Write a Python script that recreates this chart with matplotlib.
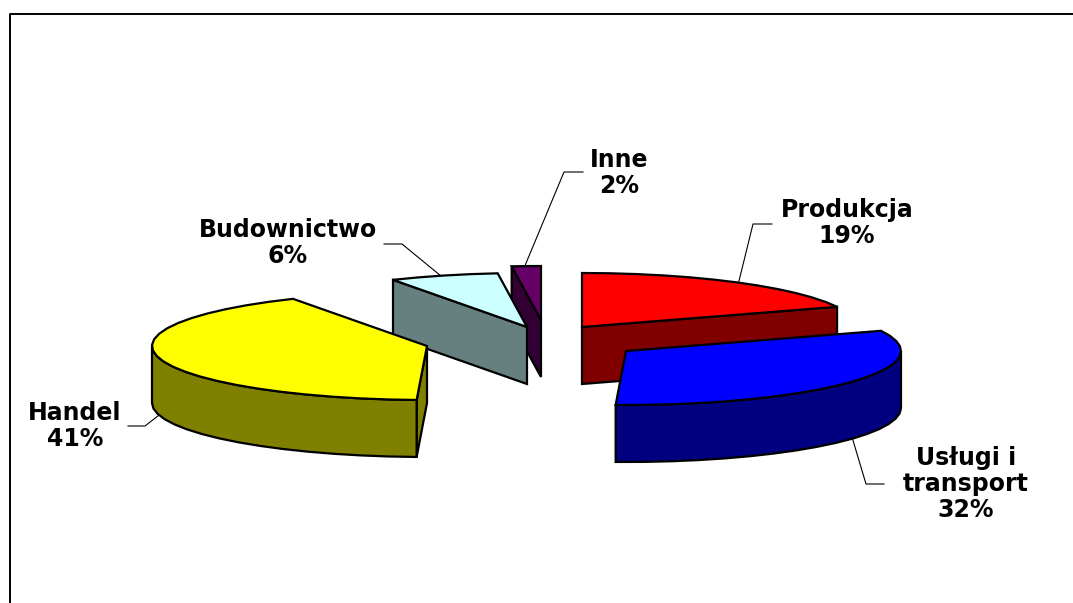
import matplotlib
matplotlib.use('Agg')
import matplotlib.pyplot as plt
from matplotlib.patches import Polygon
import numpy as np

categories = ['Produkcja', 'Usługi i\ntransport', 'Handel', 'Budownictwo', 'Inne']
values = [18.9, 31.7, 41.3, 6.4, 1.7]
top_colors = ['#ff0000', '#0000ff', '#ffff00', '#ccffff', '#660066']
side_colors = ['#800000', '#000080', '#808000', '#668080', '#330033']

# exploded apex of every slice, in pixels
apex_x = [582, 626, 427, 527, 541]
apex_y = [327, 351, 346, 327, 320]
label_x = [847, 966, 75, 288, 619]
label_y = [223, 484, 426, 243, 173]
leaders = [
    [(738, 285), (753, 224), (772, 224)],
    [(852, 437), (866, 484), (884, 484)],
    [(172, 405), (145, 426), (128, 426)],
    [(441, 276), (402, 244), (384, 244)],
    [(524, 268), (564, 172), (583, 172)],
]
# back slices first so the nearer ones cover them
draw_order = [0, 4, 3, 2, 1]

rx = 275
ry = 54
depth = 57

fig = plt.figure(figsize=(10.73, 6.03), dpi=100)
ax = fig.add_axes([0, 0, 1, 1])
ax.set_xlim(0, 1073)
ax.set_ylim(603, 0)
ax.axis('off')


def rim(cx, cy, a0, a1):
    # angles in degrees, clockwise from 12 o'clock
    n = max(2, int((a1 - a0) / 6) + 2)
    t = np.radians(np.linspace(a0, a1, n))
    return np.column_stack([cx + rx * np.sin(t), cy - ry * np.cos(t)])


def shape(pts, color, z):
    ax.add_patch(Polygon(pts, closed=True, facecolor=color, edgecolor='black',
                         linewidth=1.6, joinstyle='miter', zorder=z))


ends = np.cumsum(values) / np.sum(values) * 360
starts = np.concatenate([[0], ends[:-1]])
down = np.array([0, depth])

for z, i in enumerate(draw_order):
    cx, cy = apex_x[i], apex_y[i]
    apex = np.array([cx, cy])
    a0, a1 = starts[i], ends[i]
    z = z + 2
    # flat cut faces that look towards the viewer
    if 0 < a1 < 180:
        p = rim(cx, cy, a1, a1)[0]
        shape([apex, p, p + down, apex + down], side_colors[i], z)
    if 180 < a0 < 360:
        p = rim(cx, cy, a0, a0)[0]
        shape([apex, p, p + down, apex + down], side_colors[i], z)
    # curved outer wall, front half only
    w0, w1 = max(a0, 90), min(a1, 270)
    if w1 > w0:
        arc = rim(cx, cy, w0, w1)
        shape(np.vstack([arc, arc[::-1] + down]), side_colors[i], z)
    shape(np.vstack([apex, rim(cx, cy, a0, a1)]), top_colors[i], z)

for i, name in enumerate(categories):
    ax.text(label_x[i], label_y[i], f'{name}\n{values[i]:.0f}%', ha='center', va='center',
            fontsize=17, fontweight='bold', family='DejaVu Sans', linespacing=1.08,
            color='black', zorder=10)
    xs, ys = zip(*leaders[i])
    ax.plot(xs, ys, color='black', lw=0.8, zorder=1)

# chart frame runs off the picture on the right and at the bottom
ax.plot([9.5, 9.5, 1073], [603, 13.5, 13.5], color='black', lw=1.4, zorder=0)

fig.savefig('out.png', dpi=100, facecolor='white')
